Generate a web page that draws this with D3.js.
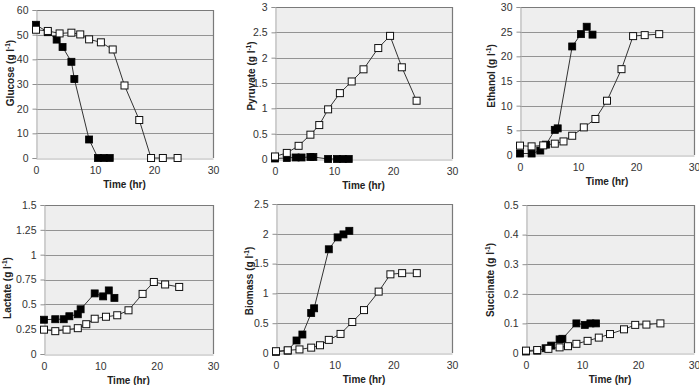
<!DOCTYPE html>
<html lang="en">
<head>
<meta charset="utf-8">
<title>Fermentation time courses</title>
<script src="https://d3js.org/d3.v7.min.js"></script>
<style>
  body { margin: 0; background: #fff; }
  svg text { font-family: "Liberation Sans", Arial, sans-serif; }
</style>
</head>
<body>
<svg id="chart" width="699" height="385"></svg>
<script>
// sampling times (hr)
var timeFilled = [0, 2, 3.5, 4.5, 6, 6.5, 9, 10.5, 11.5, 12.5];
var timeOpen = [0, 2, 4, 6, 7.5, 9, 11, 13, 15, 17.5, 19.5, 21.5, 24];

// filled squares
var glucoseFilled = [54, 51, 48, 45, 39, 32, 7.5, 0, 0, 0];
var pyruvateFilled = [0.01, 0.02, 0.03, 0.03, 0.04, 0.04, 0, 0, 0, 0];
var ethanolFilled = [0.3, 0.3, 0.9, 2.1, 5.1, 5.4, 22, 24.5, 26, 24.4];
var lactateFilled = [0.345, 0.35, 0.35, 0.38, 0.40, 0.45, 0.61, 0.58, 0.64, 0.565];
var biomassFilled = [0.02, 0.04, 0.21, 0.31, 0.67, 0.75, 1.74, 1.94, 1.99, 2.05];
var succinateFilled = [0.005, 0.008, 0.016, 0.025, 0.046, 0.048, 0.1, 0.095, 0.1, 0.1];

// open squares
var glucoseOpen = [52, 51.5, 50.5, 50.8, 50.1, 48.1, 46.9, 44, 29.4, 15.4, 0, 0, 0];
var pyruvateOpen = [0.05, 0.12, 0.26, 0.48, 0.67, 0.98, 1.3, 1.53, 1.77, 2.19, 2.43, 1.81, 1.15];
var ethanolOpen = [1.9, 1.75, 1.95, 2.3, 2.75, 3.9, 5.6, 7.3, 11, 17.4, 24.1, 24.3, 24.5];
var lactateOpen = [0.245, 0.23, 0.245, 0.26, 0.30, 0.355, 0.375, 0.39, 0.44, 0.605, 0.725, 0.70, 0.675];
var biomassOpen = [0.03, 0.045, 0.06, 0.09, 0.13, 0.22, 0.32, 0.52, 0.72, 1.03, 1.32, 1.34, 1.34];
var succinateOpen = [0.008, 0.01, 0.014, 0.019, 0.023, 0.031, 0.041, 0.052, 0.064, 0.08, 0.095, 0.096, 0.1];

// axis ticks
var timeTicks = [0, 10, 20, 30];
var glucoseTicks = [0, 10, 20, 30, 40, 50, 60];
var pyruvateTicks = [0, 0.5, 1, 1.5, 2, 2.5, 3];
var ethanolTicks = [0, 5, 10, 15, 20, 25, 30];
var lactateTicks = [0, 0.25, 0.5, 0.75, 1, 1.25, 1.5];
var biomassTicks = [0, 0.5, 1, 1.5, 2, 2.5];
var succinateTicks = [0, 0.1, 0.2, 0.3, 0.4, 0.5];

var names = ["Glucose", "Pyruvate", "Ethanol", "Lactate", "Biomass", "Succinate"];

// plot area boxes: left, top, right, bottom; y-label position
var panels = [
  {name: names[0], filled: glucoseFilled, open: glucoseOpen, ticks: glucoseTicks, fmt: d3.format("d"),
   box: [36, 10, 213, 158], lx: 10, ly: 73},
  {name: names[1], filled: pyruvateFilled, open: pyruvateOpen, ticks: pyruvateTicks, fmt: d3.format(""),
   box: [275, 7, 452, 159], lx: 251, ly: 76},
  {name: names[2], filled: ethanolFilled, open: ethanolOpen, ticks: ethanolTicks, fmt: d3.format("d"),
   box: [520, 7, 694, 155], lx: 491, ly: 76},
  {name: names[3], filled: lactateFilled, open: lactateOpen, ticks: lactateTicks, fmt: d3.format(""),
   box: [44, 205, 213, 354], lx: 7, ly: 288},
  {name: names[4], filled: biomassFilled, open: biomassOpen, ticks: biomassTicks, fmt: d3.format(""),
   box: [276, 204, 452, 353], lx: 249, ly: 281},
  {name: names[5], filled: succinateFilled, open: succinateOpen, ticks: succinateTicks, fmt: d3.format(""),
   box: [526, 205, 694, 353], lx: 490, ly: 280}
];

var svg = d3.select("#chart");
var sq = 7;

panels.forEach(function(p) {
  var L = p.box[0], T = p.box[1], R = p.box[2], B = p.box[3];
  var x = d3.scaleLinear().domain([0, 30]).range([L, R]);
  var y = d3.scaleLinear().domain([0, d3.max(p.ticks)]).range([B, T]);
  var g = svg.append("g");

  // background
  g.append("rect").attr("x", L).attr("y", T).attr("width", R - L).attr("height", B - T)
    .attr("fill", "#eeeeee");

  // gridlines
  g.selectAll(".grid").data(p.ticks.slice(1)).enter().append("line")
    .attr("x1", L).attr("x2", R)
    .attr("y1", function(d) { return Math.round(y(d)) + 0.5; })
    .attr("y2", function(d) { return Math.round(y(d)) + 0.5; })
    .attr("stroke", "#939393").attr("stroke-width", 1);

  // top and right border
  g.append("path")
    .attr("d", "M" + L + "," + (Math.round(T) + 0.5) + "H" + (Math.round(R) + 0.5) + "V" + B)
    .attr("fill", "none").attr("stroke", "#7a7a7a").attr("stroke-width", 1.2);

  // axes
  var yAxis = g.append("g").attr("transform", "translate(" + (L + 0.5) + ",0)")
    .call(d3.axisLeft(y).tickValues(p.ticks).tickFormat(p.fmt).tickSize(4).tickPadding(4));
  var xAxis = g.append("g").attr("transform", "translate(0," + (B + 0.5) + ")")
    .call(d3.axisBottom(x).tickValues(timeTicks).tickSize(0).tickPadding(8));
  [yAxis, xAxis].forEach(function(a) {
    a.select(".domain").attr("stroke", "#b0b0b0");
    a.selectAll(".tick line").attr("stroke", "#909090");
    a.selectAll("text").attr("font-size", 10.5).attr("fill", "#333")
      .attr("font-family", "Liberation Sans, Arial, sans-serif");
  });

  // axis titles
  g.append("text").attr("x", (L + R) / 2).attr("y", B + 30)
    .attr("text-anchor", "middle").attr("font-size", 10).attr("font-weight", "bold")
    .attr("fill", "#222").text("Time (hr)");

  var yt = g.append("text")
    .attr("transform", "translate(" + (p.lx + 4) + "," + p.ly + ") rotate(-90)")
    .attr("text-anchor", "middle").attr("font-size", 10).attr("font-weight", "bold")
    .attr("fill", "#222");
  yt.append("tspan").text(p.name + " (g l");
  yt.append("tspan").attr("font-size", 6.5).attr("dy", -4).text("-1");
  yt.append("tspan").attr("dy", 4).text(")");

  var line = d3.line().x(function(d) { return x(d[0]); }).y(function(d) { return y(d[1]); });
  var fData = timeFilled.map(function(t, i) { return [t, p.filled[i]]; });
  var oData = timeOpen.map(function(t, i) { return [t, p.open[i]]; });

  g.append("path").datum(fData).attr("d", line)
    .attr("fill", "none").attr("stroke", "#333").attr("stroke-width", 1);
  g.append("path").datum(oData).attr("d", line)
    .attr("fill", "none").attr("stroke", "#333").attr("stroke-width", 1);

  g.selectAll(".fm").data(fData).enter().append("rect")
    .attr("x", function(d) { return x(d[0]) - sq / 2; })
    .attr("y", function(d) { return y(d[1]) - sq / 2; })
    .attr("width", sq).attr("height", sq)
    .attr("fill", "#000").attr("stroke", "#000").attr("stroke-width", 0.8);
  g.selectAll(".om").data(oData).enter().append("rect")
    .attr("x", function(d) { return x(d[0]) - sq / 2; })
    .attr("y", function(d) { return y(d[1]) - sq / 2; })
    .attr("width", sq).attr("height", sq)
    .attr("fill", "#fff").attr("stroke", "#111").attr("stroke-width", 1);
});
</script>
</body>
</html>
